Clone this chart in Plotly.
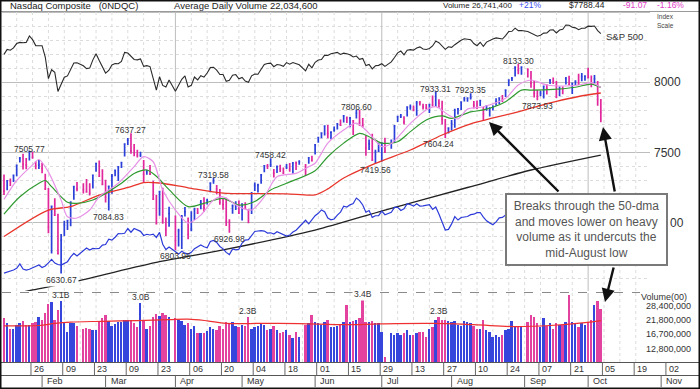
import math
import plotly.graph_objects as go
import pandas as pd

# ---------------- DATA ----------------
TRADING_DAYS = {
    1: [16, 17, 18, 19, 22, 23, 24, 25, 26, 29, 30, 31],
    2: [1, 2, 5, 6, 7, 8, 9, 12, 13, 14, 15, 16, 20, 21, 22, 23, 26, 27, 28],
    3: [1, 2, 5, 6, 7, 8, 9, 12, 13, 14, 15, 16, 19, 20, 21, 22, 23, 26, 27, 28, 29],
    4: [2, 3, 4, 5, 6, 9, 10, 11, 12, 13, 16, 17, 18, 19, 20, 23, 24, 25, 26, 27, 30],
    5: [1, 2, 3, 4, 7, 8, 9, 10, 11, 14, 15, 16, 17, 18, 21, 22, 23, 24, 25, 29, 30, 31],
    6: [1, 4, 5, 6, 7, 8, 11, 12, 13, 14, 15, 18, 19, 20, 21, 22, 25, 26, 27, 28, 29],
    7: [2, 3, 5, 6, 9, 10, 11, 12, 13, 16, 17, 18, 19, 20, 23, 24, 25, 26, 27, 30, 31],
    8: [1, 2, 3, 6, 7, 8, 9, 10, 13, 14, 15, 16, 17, 20, 21, 22, 23, 24, 27, 28, 29, 30, 31],
    9: [4, 5, 6, 7, 10, 11, 12, 13, 14, 17, 18, 19, 20, 21, 24, 25, 26, 27, 28],
    10: [1, 2, 3, 4, 5],
}
DATES = [f"2018-{m:02d}-{d:02d}" for m, ds in TRADING_DAYS.items() for d in ds]

PREV_CLOSE = 7261.06

CLOSE = [
    7223.69, 7298.28, 7296.05, 7336.38, 7408.03, 7460.29, 7415.06, 7411.16, 7505.77, 7466.51, 7402.48, 7411.48,
    7385.86, 7240.95, 6967.53, 7115.88, 7051.98, 6777.16, 6874.49, 6981.96, 7013.51, 7143.62, 7256.43, 7239.47,
    7234.31, 7218.23, 7210.09, 7337.39, 7421.46, 7330.35, 7273.01,
    7180.56, 7257.87, 7330.70, 7372.01, 7396.65, 7427.95, 7560.81, 7588.32, 7511.01, 7496.81, 7481.74, 7481.99,
    7344.24, 7364.30, 7345.29, 7166.68, 6992.67, 7220.54, 7008.81, 6949.23, 7063.45,
    6870.12, 6941.28, 7042.11, 7076.55, 6915.11, 6950.34, 7094.30, 7069.03, 7140.25, 7106.65, 7156.28, 7281.10,
    7295.24, 7238.06, 7146.13, 7128.60, 7007.35, 7003.74, 7118.68, 7119.80, 7066.27,
    7130.70, 7100.90, 7088.15, 7209.62, 7265.21, 7266.90, 7339.91, 7404.98, 7402.88, 7411.32, 7351.63, 7398.30,
    7382.47, 7354.34, 7394.04, 7378.46, 7425.96, 7424.43, 7433.85, 7396.59, 7462.45, 7442.12,
    7554.33, 7606.46, 7637.86, 7689.24, 7635.07, 7645.51, 7659.93, 7703.79, 7695.70, 7761.04, 7746.38, 7747.03,
    7725.59, 7781.51, 7712.95, 7692.82, 7532.01, 7561.63, 7445.08, 7503.68, 7510.30,
    7567.69, 7502.67, 7586.43, 7688.39, 7756.20, 7759.20, 7716.61, 7823.92, 7825.98, 7805.72, 7855.12, 7854.44,
    7825.30, 7820.20, 7841.87, 7840.77, 7932.24, 7852.18, 7737.42, 7630.00, 7671.79,
    7707.29, 7802.69, 7812.01, 7859.68, 7883.66, 7888.33, 7891.78, 7839.11, 7819.71, 7870.89, 7774.12, 7806.52,
    7816.33, 7821.01, 7859.17, 7889.10, 7878.46, 7945.98, 8017.90, 8030.04, 8109.54, 8088.36, 8109.69,
    8091.25, 7995.17, 7922.73, 7902.54, 7924.16, 7972.47, 7954.23, 8013.71, 8010.04, 7895.79, 7956.11, 7950.04,
    8028.23, 7986.96, 7993.25, 8007.47, 7990.37, 8041.97, 8046.35,
    8037.30, 7999.55, 8025.09, 7879.51, 7788.45,
]

HIGH = [
    7343, 7300, 7314, 7337, 7409, 7468, 7491, 7460, 7505.77, 7506, 7438, 7446,
    7427, 7349, 7247, 7117, 7174, 7063, 6918, 7013, 7016, 7151, 7257, 7290, 7280, 7310, 7280, 7338, 7422, 7443, 7381,
    7305, 7260, 7346, 7378, 7399, 7434, 7561, 7603, 7637.27, 7560, 7520, 7505, 7447, 7376, 7410, 7298, 7198, 7221,
    7249, 7036, 7113,
    7050, 6956, 7054, 7110, 7036, 7081, 7105, 7103, 7160, 7180, 7170, 7286, 7319.58, 7268, 7240, 7175, 7176, 7023,
    7128, 7152, 7157,
    7131, 7145, 7095, 7217, 7285, 7276, 7344, 7406, 7418, 7458.42, 7383, 7407, 7412, 7393, 7417, 7425, 7427, 7436,
    7444, 7417, 7465, 7477,
    7556, 7612, 7641, 7690, 7697, 7648, 7685, 7709, 7736, 7762, 7758, 7750, 7730, 7806.60, 7803, 7746, 7622, 7593,
    7634, 7520, 7569,
    7568, 7605, 7587, 7697, 7757, 7775, 7759, 7825, 7843, 7836, 7867, 7868, 7849, 7846, 7843, 7907, 7933.31, 7880,
    7869, 7740, 7680,
    7732, 7812, 7813, 7860, 7897, 7894, 7923.35, 7868, 7872, 7873, 7825, 7840, 7824, 7837, 7888, 7894, 7911, 7946,
    8018, 8039, 8110, 8133.30, 8114,
    8102, 8083, 8010, 7946, 7941, 7978, 7988, 8025, 8036, 8010, 7972, 7972, 8040, 8049, 7998, 8016, 8063, 8068, 8051,
    8106, 8050, 8054, 8010, 7883,
]

LOW = [
    7197, 7230, 7260, 7290, 7330, 7429, 7378, 7380, 7442, 7455, 7380, 7383,
    7352, 7232, 6923, 6779, 7046, 6776, 6630.67, 6903, 6947, 6974, 7162, 7224, 7207, 7216, 7192, 7242, 7363, 7330, 7273,
    7142, 7084.83, 7205, 7330, 7296, 7389, 7471, 7554, 7491, 7474, 7464, 7467, 7285, 7341, 7340, 7165, 6992, 7049,
    6991, 6903, 6969,
    6803.96, 6828, 6810, 7043, 6880, 6937, 7018, 7060, 7095, 7075, 7129, 7216, 7277, 7200, 7127, 7091, 6975, 6926.98,
    7063, 7089, 7063,
    7015, 7096, 6994, 7060, 7225, 7215, 7276, 7359, 7382, 7396, 7322, 7353, 7360, 7345, 7382, 7363, 7348, 7375,
    7413, 7336, 7420, 7436,
    7486, 7569, 7601, 7622, 7602, 7594, 7649, 7664, 7691, 7715, 7710, 7681, 7625, 7742, 7690, 7679, 7477, 7518,
    7445, 7419.56, 7503,
    7435, 7496, 7527, 7568, 7718, 7746, 7700, 7757, 7806, 7795, 7762, 7836, 7807, 7807, 7783, 7829, 7827, 7820,
    7700, 7604.24, 7636,
    7658, 7676, 7771, 7803, 7864, 7862, 7878, 7814, 7811, 7832, 7733, 7798, 7758, 7800, 7834, 7847, 7860, 7897,
    7975, 8011, 8042, 8059, 8056,
    8036, 7963, 7892, 7873.93, 7902, 7885, 7914, 7990, 7990, 7891, 7902, 7916, 7986, 7983, 7918, 7981, 7982, 8009, 8012,
    8028, 7966, 7992, 7834, 7716,
]

VOLUME_B = [
    2.25, 2.05, 1.85, 1.85, 2.0, 2.05, 2.15, 2.0, 2.0, 2.05, 2.1, 2.3,
    2.2, 2.5, 2.95, 3.05, 2.2, 2.65, 3.1, 2.1, 1.75, 2.05, 2.05, 1.95, 1.85, 1.88, 1.85, 1.82, 1.8, 2.1, 2.25,
    2.4, 2.16, 1.97, 2.03, 2.1, 2.1, 2.2, 2.2, 2.2, 2.05, 1.9, 3.0, 2.2, 1.85, 1.95, 2.3, 2.45, 2.35, 2.5, 2.4, 2.3,
    2.25, 2.2, 2.15, 2.0, 2.05, 1.85, 1.95, 1.7, 1.7, 1.72, 1.78, 1.9, 1.85, 1.8, 1.95, 1.85, 2.1, 2.05, 2.1, 1.95, 1.9,
    2.0, 1.95, 2.3, 1.85, 1.9, 1.95, 2.05, 2.0, 1.8, 1.85, 1.95, 1.8, 1.7, 1.75, 1.8, 1.65, 1.55, 1.75, 1.6, 2.0,
    2.05, 2.4,
    2.1, 2.05, 2.0, 2.1, 2.2, 1.9, 1.9, 1.95, 2.0, 2.1, 2.9, 2.1, 2.15, 2.2, 2.25, 3.35, 2.1, 2.1, 2.15, 2.05, 2.05,
    1.75, 1.1, 1.7, 1.65, 1.72, 1.65, 1.7, 1.8, 1.65, 1.65, 1.7, 1.75, 1.75, 1.6, 1.85, 1.9, 2.2, 2.3, 2.2, 2.2, 2.15,
    2.1, 2.15, 2.0, 1.95, 2.15, 2.1, 2.05, 1.95, 1.85, 1.85, 2.2, 1.8, 1.75, 1.6, 1.65, 1.6, 1.65, 1.8, 1.85, 2.15,
    1.95, 1.9, 1.9,
    2.1, 2.4, 2.3, 2.05, 1.9, 2.25, 1.95, 2.05, 1.85, 2.05, 2.0, 2.0, 2.1, 3.5, 2.1, 2.05, 1.9, 2.05, 2.0,
    2.1, 2.2, 2.9, 3.1, 2.674,
]

SP500 = [
    2776.42, 2802.56, 2798.03, 2810.30, 2832.97, 2839.13, 2837.54, 2839.25, 2872.87, 2853.53, 2822.43, 2823.81,
    2821.98, 2762.13, 2648.94, 2695.14, 2681.66, 2581.00, 2619.55, 2656.00, 2662.94, 2698.63, 2731.20, 2732.22,
    2716.26, 2701.33, 2703.96, 2747.30, 2779.60, 2744.28, 2713.83,
    2677.67, 2691.25, 2720.94, 2728.12, 2726.80, 2738.97, 2786.57, 2783.02, 2765.31, 2749.48, 2747.33, 2752.01,
    2712.92, 2716.94, 2711.93, 2643.69, 2588.26, 2658.55, 2612.62, 2605.00, 2640.87,
    2581.88, 2614.45, 2644.69, 2662.84, 2604.47, 2613.16, 2656.87, 2642.19, 2663.99, 2656.30, 2677.84, 2706.39,
    2708.64, 2693.13, 2670.14, 2670.29, 2634.56, 2639.40, 2666.94, 2669.91, 2648.05,
    2654.80, 2635.67, 2629.73, 2663.42, 2672.63, 2671.92, 2697.79, 2723.07, 2727.72, 2730.13, 2711.45, 2722.46,
    2720.13, 2712.97, 2733.01, 2724.44, 2733.29, 2727.76, 2721.33, 2689.86, 2724.01, 2705.27,
    2734.62, 2746.87, 2748.80, 2772.35, 2770.37, 2779.03, 2782.00, 2786.85, 2775.63, 2782.49, 2779.66, 2773.75,
    2762.59, 2767.32, 2749.76, 2754.88, 2717.07, 2723.06, 2699.63, 2716.31, 2718.37,
    2726.71, 2713.22, 2736.61, 2759.82, 2784.17, 2793.84, 2774.02, 2798.29, 2801.31, 2798.43, 2809.55, 2815.62,
    2804.49, 2801.83, 2806.98, 2820.40, 2846.07, 2837.44, 2818.82, 2802.60, 2816.29,
    2813.36, 2827.22, 2840.35, 2850.40, 2858.45, 2857.70, 2853.58, 2833.28, 2821.93, 2839.96, 2818.37, 2840.69,
    2850.13, 2857.05, 2862.96, 2861.82, 2856.98, 2874.69, 2896.74, 2897.52, 2914.04, 2901.13, 2901.52,
    2896.72, 2888.60, 2878.05, 2871.68, 2877.13, 2887.89, 2888.92, 2904.18, 2904.98, 2888.80, 2904.31, 2907.95,
    2930.75, 2929.67, 2919.37, 2915.56, 2905.97, 2914.00, 2913.98,
    2924.59, 2923.43, 2925.51, 2901.61, 2885.57,
]

MA50_DATES = ["01-16", "02-05", "02-14", "02-27", "03-13", "03-19", "03-26", "04-06", "04-23", "05-07", "05-21",
              "06-01", "06-07", "06-14", "06-28", "07-13", "07-27", "08-09", "08-16", "08-29", "09-07", "09-17",
              "09-26", "10-05"]
MA50 = [6900, 7089, 7113, 7196, 7256, 7285, 7282, 7248, 7210, 7206, 7205,
        7198, 7240, 7318, 7423, 7518, 7625, 7705, 7735, 7785, 7830, 7865, 7900, 7925]

MA21_DATES = ["01-16", "01-23", "01-31", "02-02", "02-06", "02-13", "02-16", "02-23", "03-01", "03-08", "03-14",
              "03-20", "03-23", "03-29", "04-06", "04-13", "04-23", "04-30", "05-07", "05-14", "05-21", "06-01",
              "06-07", "06-14", "06-21", "06-26", "07-02", "07-09", "07-13", "07-20", "07-27", "08-01", "08-09",
              "08-15", "08-24", "08-31", "09-05", "09-14", "09-25", "10-02", "10-05"]
MA21 = [7060, 7184, 7280, 7300, 7256, 7145, 7137, 7161, 7208, 7280, 7350,
        7375, 7330, 7235, 7113, 7137, 7172, 7125, 7150, 7232, 7280, 7370,
        7470, 7567, 7637, 7613, 7567, 7577, 7649, 7732, 7761, 7744, 7790,
        7804, 7863, 7946, 7946, 7951, 7966, 7989, 7965]

MA10_DATES = ["01-16", "01-22", "01-29", "01-31", "02-05", "02-09", "02-13", "02-16", "02-22", "02-27", "03-07",
              "03-14", "03-19", "03-22", "03-27", "04-02", "04-06", "04-12", "04-18", "04-23", "04-30", "05-04",
              "05-10", "05-16", "05-24", "05-30", "06-01", "06-07", "06-14", "06-20", "06-26", "07-02", "07-05",
              "07-13", "07-20", "07-25", "07-31", "08-03", "08-08", "08-15", "08-24", "08-30", "09-05", "09-12",
              "09-20", "09-26", "10-02", "10-05"]
MA10 = [7165, 7300, 7411, 7450, 7360, 7160, 7041, 7032, 7089, 7184, 7280,
        7399, 7470, 7434, 7232, 7089, 6996, 7053, 7161, 7184, 7113, 7089,
        7184, 7327, 7351, 7399, 7423, 7567, 7661, 7710, 7637, 7542, 7565,
        7708, 7804, 7827, 7768, 7740, 7810, 7827, 7887, 7982, 8018, 7982,
        7975, 7982, 7999, 7965]

MA200_DATES = ["01-16", "01-29", "02-16", "03-26", "04-23", "06-01", "07-03", "08-08", "09-05", "10-05"]
MA200 = [6475, 6518, 6582, 6720, 6804, 6946, 7089, 7250, 7375, 7482]

VOL_MA_DATES = ["01-16", "01-31", "02-07", "02-14", "02-28", "03-15", "03-29", "04-06", "04-16", "04-24", "05-10",
                "05-25", "06-15", "06-29", "07-24", "08-10", "08-29", "09-13", "09-28", "10-05"]
VOL_MA_B = [1.96, 1.97, 2.05, 2.1, 2.13, 2.16, 2.2, 2.22, 2.15, 2.05, 2.05,
            2.04, 2.0, 2.03, 2.05, 2.0, 1.93, 1.97, 2.08, 2.16]

PRICE_LABELS = [  # (date, value, is_high)
    ("2018-01-26", 7505.77, True), ("2018-02-09", 6630.67, False), ("2018-03-13", 7637.27, True),
    ("2018-03-02", 7084.83, False), ("2018-04-02", 6803.96, False), ("2018-04-18", 7319.58, True),
    ("2018-04-25", 6926.98, False), ("2018-05-14", 7458.42, True), ("2018-06-20", 7806.60, True),
    ("2018-06-28", 7419.56, False), ("2018-07-25", 7933.31, True), ("2018-07-30", 7604.24, False),
    ("2018-08-09", 7923.35, True), ("2018-08-30", 8133.30, True), ("2018-09-07", 7873.93, False),
]
VOL_LABELS = [("2018-02-09", "3.1B"), ("2018-03-16", "3.0B"), ("2018-05-03", "2.3B"),
              ("2018-06-22", "3.4B"), ("2018-07-26", "2.3B")]

DAY_TICKS = ["01-26", "02-09", "02-23", "03-09", "03-23", "04-06", "04-20", "05-04", "05-18", "06-01", "06-15",
             "06-29", "07-13", "07-27", "08-10", "08-24", "09-07", "09-21", "10-05", "10-19", "11-02"]
MONTHS = [("02-01", "Feb"), ("03-01", "Mar"), ("04-02", "Apr"), ("05-01", "May"), ("06-01", "Jun"),
          ("07-02", "Jul"), ("08-01", "Aug"), ("09-03", "Sep"), ("10-01", "Oct"), ("11-01", "Nov")]
PRICE_LEVELS = [7500, 8000]
VOL_LEVELS = [(2.84e9, "28,400,000"), (2.18e9, "21,800,000"), (1.67e9, "16,700,000"), (1.28e9, "12,800,000")]

# ---------------- STYLE / LAYOUT ----------------
W, H = 700, 389
FONT = "Arial, Liberation Sans, sans-serif"
BLUE = "#2b3fd9"
MAG = "#e0289c"
VBLUE = "#3646dc"
VMAG = "#e3439f"


def px(x):
    return x / W


def py(y):
    return 1 - y / H


def d(s, hour=12):
    return (pd.Timestamp("2018-" + s) + pd.Timedelta(hours=hour)).strftime("%Y-%m-%d %H:%M")


mid = [(pd.Timestamp(s) + pd.Timedelta(hours=12)).strftime("%Y-%m-%d %H:%M") for s in DATES]
prev = [PREV_CLOSE] + CLOSE[:-1]
up = [c > p for c, p in zip(CLOSE, prev)]

fig = go.Figure()

# moving averages
for dates, vals, col, w in [(MA200_DATES, MA200, "#222222", 1.3), (MA50_DATES, MA50, "#e8352b", 1.3),
                            (MA21_DATES, MA21, "#2f9a2f", 1.2), (MA10_DATES, MA10, "#e792e6", 1.2)]:
    fig.add_trace(go.Scatter(x=[d(s) for s in dates], y=vals, mode="lines", line=dict(color=col, width=w,
                  shape="spline", smoothing=0.8), xaxis="x", yaxis="y", hoverinfo="skip"))

# price bars (close tick)
for flag, col in [(True, BLUE), (False, MAG)]:
    idx = [i for i in range(len(CLOSE)) if up[i] == flag]
    fig.add_trace(go.Ohlc(
        x=[mid[i] for i in idx], open=[CLOSE[i] for i in idx], high=[HIGH[i] for i in idx],
        low=[LOW[i] for i in idx], close=[CLOSE[i] for i in idx], tickwidth=0.3,
        increasing=dict(line=dict(color=col, width=1.7)), decreasing=dict(line=dict(color=col, width=1.7)),
        xaxis="x", yaxis="y", hoverinfo="skip"))

# S&P 500 and relative strength lines
fig.add_trace(go.Scatter(x=mid, y=SP500, mode="lines", line=dict(color="#2a2a2a", width=1.1),
                         xaxis="x", yaxis="y3", hoverinfo="skip"))
rs = [c / s for c, s in zip(CLOSE, SP500)]
fig.add_trace(go.Scatter(x=mid, y=rs, mode="lines", line=dict(color="#2c3bd8", width=1.2),
                         xaxis="x", yaxis="y4", hoverinfo="skip"))

# volume
vols = [v * 1e9 for v in VOLUME_B]
fig.add_trace(go.Bar(x=mid, y=vols, marker=dict(color=[VBLUE if u else VMAG for u in up], line=dict(width=0)),
                     width=0.6 * 86400000, xaxis="x", yaxis="y2", hoverinfo="skip"))
fig.add_trace(go.Scatter(x=[d(s) for s in VOL_MA_DATES], y=[v * 1e9 for v in VOL_MA_B], mode="lines",
                         line=dict(color="#ee3030", width=1.2, shape="spline"), xaxis="x", yaxis="y2",
                         hoverinfo="skip"))

shapes = []
# horizontal price grid
for lvl in range(6600, 8501, 100):
    solid = lvl % 500 == 0
    shapes.append(dict(type="line", xref="paper", yref="y", x0=px(2), x1=px(650), y0=lvl, y1=lvl,
                       line=dict(color="#bdbdbd" if solid else "#dcdcdc", width=1, dash="solid" if solid else "dot"),
                       layer="below"))
# vertical weekly grid
mondays = pd.date_range("2018-01-22", "2018-10-22", freq="W-MON")
for m in mondays:
    solid = m.strftime("%m-%d") in ("04-02", "07-02", "10-01")
    xs = (m + pd.Timedelta(hours=12)).strftime("%Y-%m-%d %H:%M")
    for y0, y1 in [(py(291), py(12)), (py(362), py(293))]:
        shapes.append(dict(type="line", xref="x", yref="paper", x0=xs, x1=xs, y0=y0, y1=y1,
                           line=dict(color="#bdbdbd" if solid else "#dcdcdc", width=1,
                                     dash="solid" if solid else "dot"), layer="below"))
# volume grid (log axis -> log10 coordinates)
for v, _ in VOL_LEVELS:
    shapes.append(dict(type="line", xref="paper", yref="y2", x0=px(2), x1=px(640), y0=math.log10(v),
                       y1=math.log10(v), line=dict(color="#d4d4d4", width=1, dash="dot"), layer="below"))
# header line, panel separator
shapes.append(dict(type="line", xref="paper", yref="paper", x0=0, x1=1, y0=py(11.5), y1=py(11.5),
                   line=dict(color="#9a9a9a", width=1)))
shapes.append(dict(type="line", xref="paper", yref="paper", x0=px(2), x1=px(640), y0=py(292.5), y1=py(292.5),
                   line=dict(color="#8a8a8a", width=1, dash="dash")))
# date rows
for yy in (362.5, 375.5):
    shapes.append(dict(type="line", xref="paper", yref="paper", x0=0, x1=1, y0=py(yy), y1=py(yy),
                       line=dict(color="#555555", width=1)))
annotations = []
for s in DAY_TICKS:
    xs = (pd.Timestamp("2018-" + s) + pd.Timedelta(days=3)).strftime("%Y-%m-%d")
    shapes.append(dict(type="line", xref="x", yref="paper", x0=xs, x1=xs, y0=py(375.5), y1=py(362.5),
                       line=dict(color="#666666", width=1)))
    annotations.append(dict(x=xs, y=py(369), xref="x", yref="paper", text=s[3:], showarrow=False,
                            xanchor="left", yanchor="middle", xshift=1, font=dict(size=9, color="#333", family=FONT)))
for s, name in MONTHS:
    xs = d(s)
    shapes.append(dict(type="line", xref="x", yref="paper", x0=xs, x1=xs, y0=py(387), y1=py(375.5),
                       line=dict(color="#666666", width=1)))
    annotations.append(dict(x=xs, y=py(381), xref="x", yref="paper", text=name, showarrow=False,
                            xanchor="left", yanchor="middle", xshift=3, font=dict(size=9, color="#333", family=FONT)))
# frame
shapes.append(dict(type="rect", xref="paper", yref="paper", x0=0, x1=1, y0=0, y1=1,
                   line=dict(color="#111111", width=3)))

# header texts
hdr = [(8, "Nasdaq Composite&nbsp;&nbsp;&nbsp;(0NDQC)", "#222", 9.5),
       (172, "Average Daily Volume 22,034,600", "#222", 9.5),
       (441, "Volume 26,741,400", "#222", 8), (517, "+21%", "#3a4ef0", 8.5), (567, "$7788.44", "#222", 8.5),
       (621, "-91.07", "#e040c8", 8.5), (655, "-1.16%", "#e040c8", 8.5)]
for x, t, c, sz in hdr:
    annotations.append(dict(x=px(x), y=py(5.5), xref="paper", yref="paper", text=t, showarrow=False,
                            xanchor="left", yanchor="middle", font=dict(size=sz, color=c, family=FONT)))
annotations.append(dict(x=px(655), y=py(17), xref="paper", yref="paper", text="Index", showarrow=False,
                        xanchor="left", yanchor="middle", font=dict(size=6.5, color="#444", family=FONT)))
annotations.append(dict(x=px(655), y=py(25.5), xref="paper", yref="paper", text="Scale", showarrow=False,
                        xanchor="left", yanchor="middle", font=dict(size=6.5, color="#444", family=FONT)))
annotations.append(dict(x=px(604), y=py(37), xref="paper", yref="paper", text="S&P 500", showarrow=False,
                        xanchor="left", yanchor="middle", font=dict(size=9.5, color="#333", family=FONT)))
for lvl in PRICE_LEVELS:
    annotations.append(dict(x=px(652), y=lvl, xref="paper", yref="y", text=str(lvl), showarrow=False,
                            xanchor="left", yanchor="middle", font=dict(size=12, color="#333", family=FONT)))
# the 7000 label shows only its last digits beside the callout box
annotations.append(dict(x=px(668), y=7000, xref="paper", yref="y", text="00", showarrow=False,
                        xanchor="left", yanchor="middle", font=dict(size=12, color="#333", family=FONT)))
# price high/low labels
for ds, val, hi in PRICE_LABELS:
    lab = dict(x=ds + " 12:00", y=val, xref="x", yref="y", text=f"{val:.2f}", showarrow=False,
               xanchor="center", yanchor="middle", yshift=3 if hi else -6,
               font=dict(size=8.5, color="#333", family=FONT))
    if val == 6630.67:
        lab["bgcolor"] = "white"
    if val == 7604.24:
        lab["xshift"] = -7
    annotations.append(lab)
# volume labels
for ds, t in VOL_LABELS:
    v = VOLUME_B[DATES.index(ds)] * 1e9
    lab = dict(x=ds + " 12:00", y=math.log10(v), xref="x", yref="y2", text=t, showarrow=False, xanchor="center",
               yanchor="middle", yshift=6, font=dict(size=8.5, color="#333", family=FONT))
    if t == "3.4B":
        lab["bgcolor"] = "white"
        lab["yshift"] = 3
    annotations.append(lab)
annotations.append(dict(x=px(689), y=py(297), xref="paper", yref="paper", text="Volume(00)", showarrow=False,
                        xanchor="right", yanchor="middle", font=dict(size=9, color="#333", family=FONT)))
for v, t in VOL_LEVELS:
    annotations.append(dict(x=px(693), y=math.log10(v), xref="paper", yref="y2", text=t, showarrow=False,
                            xanchor="right", yanchor="middle", font=dict(size=9, color="#333", family=FONT)))
# arrows
for hx, hy, tx, ty in [(489, 122, 560, 193), (603, 127, 615, 193), (605, 302, 614, 266)]:
    annotations.append(dict(x=px(hx), y=py(hy), xref="paper", yref="paper", ax=tx - hx, ay=ty - hy,
                            text="", showarrow=True, arrowhead=2, arrowsize=1.1, arrowwidth=2.4,
                            arrowcolor="#111", standoff=0))
# callout box
annotations.append(dict(x=px(586), y=py(229), xref="paper", yref="paper", xanchor="center", yanchor="middle",
                        text="Breaks through the 50-dma<br>and moves lower on heavy<br>volume as it undercuts the"
                             "<br>mid-August low",
                        showarrow=False, align="center", width=157, height=67, bgcolor="white",
                        bordercolor="#7a7a7a", borderwidth=2, borderpad=1,
                        font=dict(size=12, color="#555", family=FONT)))

fig.update_layout(
    width=W, height=H, margin=dict(l=0, r=0, t=0, b=0), paper_bgcolor="white", plot_bgcolor="white",
    showlegend=False, hovermode=False, bargap=0,
    xaxis=dict(type="date", domain=[px(2), px(697)], range=["2018-01-15 21:00", "2018-11-16 19:00"],
               rangebreaks=[dict(bounds=["sat", "mon"])], showticklabels=False, showgrid=False,
               zeroline=False, ticks="", rangeslider=dict(visible=False), anchor="y2"),
    yaxis=dict(domain=[py(291), py(12)], range=[6510.7, 8503.6], visible=False, showgrid=False),
    yaxis2=dict(domain=[py(362), py(293)], type="log", range=[9.0, 9.557], visible=False, showgrid=False),
    yaxis3=dict(overlaying="y", range=[1530.8, 2999.2], visible=False, anchor="x"),
    yaxis4=dict(overlaying="y", range=[2.5516, 3.3331], visible=False, anchor="x"),
    shapes=shapes, annotations=annotations,
)

fig.write_html("out.html", config={"displayModeBar": False},
               post_script="document.body.style.margin='0';document.body.style.overflow='hidden';")
